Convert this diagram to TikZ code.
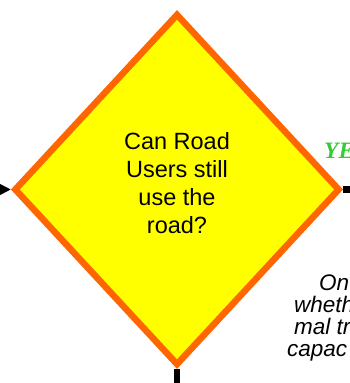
\documentclass[tikz,border=0pt]{standalone}
\usepackage{fontspec}
\setmainfont{Liberation Sans}
\newfontfamily\yesfont{Liberation Serif}
\usetikzlibrary{arrows.meta,shapes.geometric}
\definecolor{Flame}{HTML}{FF6600}
\definecolor{Lemon}{HTML}{FFFF00}
\definecolor{Leaf}{HTML}{33CC33}

\begin{document}
\begin{tikzpicture}[x=1pt,y=-1pt,
  every node/.style={align=center},
  decision/.style={diamond,draw=Flame,fill=Lemon,line width=6.5pt,minimum width=326pt,minimum height=352pt,inner sep=0pt,font=\fontsize{23.5}{28}\selectfont,text depth=13pt},
  answer/.style={font=\yesfont\bfseries\itshape\fontsize{23.5}{28}\selectfont,text=Leaf,anchor=base west,inner sep=0pt},
  note/.style={font=\itshape\fontsize{22.5}{26}\selectfont,anchor=base west,inner sep=0pt},
  arr/.style={line width=2pt,-{Triangle[length=14pt,width=14pt]}},
  stub/.style={line width=6.5pt}
]
\useasboundingbox (0,0) rectangle (350,383);
\clip (0,0) rectangle (350,383);
% decision box
\node[decision] (d) at (177,189.5) {Can Road\\Users still\\use the\\road?};
% connectors
\coordinate (lin) at (-30,189.5);
\coordinate (rout) at (365,189.5);
\coordinate (bout) at (177,400);
\draw[arr] (lin) -- (d.west);
\draw[stub] (d.east) -- (rout);
\draw[stub] (d.south) -- (bout);
% labels cut by the page edge
\node[answer] (yes) at (324,158) {YE};
\node[note] (n1) at (319,290) {On};
\node[note] (n2) at (294,312) {wheth};
\node[note] (n3) at (294,334) {mal tr};
\node[note] (n4) at (287,356) {capac};
\end{tikzpicture}
\end{document}
